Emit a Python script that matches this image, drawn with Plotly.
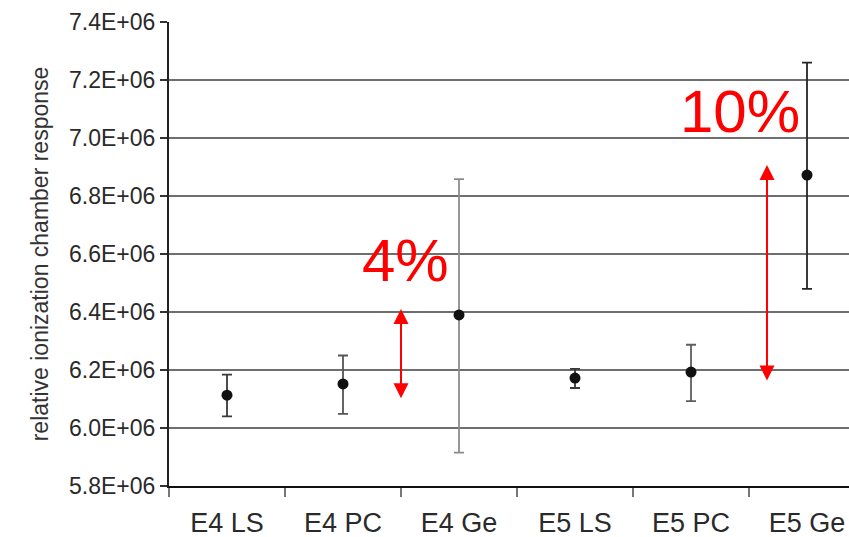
import plotly.graph_objects as go

# Measurement series: relative ionization chamber response per setup
categories = ["E4 LS", "E4 PC", "E4 Ge", "E5 LS", "E5 PC", "E5 Ge"]
response = [6.113e6, 6.152e6, 6.390e6, 6.172e6, 6.193e6, 6.872e6]
err_plus = [0.071e6, 0.098e6, 0.468e6, 0.032e6, 0.094e6, 0.388e6]
err_minus = [0.073e6, 0.103e6, 0.475e6, 0.034e6, 0.100e6, 0.392e6]
bar_colors = ["#3a3a3a", "#555555", "#8c8c8c", "#3a3a3a", "#5e5e5e", "#262626"]

# Y axis ticks
y_ticks = [5.8e6, 6.0e6, 6.2e6, 6.4e6, 6.6e6, 6.8e6, 7.0e6, 7.2e6, 7.4e6]
y_ticktext = [f"{v:.1E}" for v in y_ticks]

# Spread annotations: label, arrow x (category units), arrow low/high, label position
spread_labels = ["4%", "10%"]
spread_x = [1.50, 4.655]
spread_low = [6.097e6, 6.159e6]
spread_high = [6.410e6, 6.907e6]
label_x = [1.543, 4.42]
label_y = [6.579e6, 7.09e6]

fig = go.Figure()

for cat, val, ep, em, col in zip(categories, response, err_plus, err_minus, bar_colors):
    fig.add_trace(go.Scatter(
        x=[cat], y=[val],
        mode="markers",
        marker=dict(color="#111111", size=11),
        error_y=dict(type="data", symmetric=False, array=[ep], arrayminus=[em],
                     color=col, thickness=1.8, width=5),
        showlegend=False,
    ))

for lab, ax_x, lo, hi, lx, ly in zip(spread_labels, spread_x, spread_low, spread_high, label_x, label_y):
    fig.add_annotation(
        x=ax_x, y=hi, ax=ax_x, ay=lo,
        xref="x", yref="y", axref="x", ayref="y",
        text="", showarrow=True,
        arrowhead=2, arrowside="end+start", arrowsize=1.5,
        arrowwidth=2, arrowcolor="#ff0000",
    )
    fig.add_annotation(
        x=lx, y=ly, xref="x", yref="y", text=lab, showarrow=False,
        font=dict(family="Liberation Sans, Arial, sans-serif", size=60, color="#ff0000"),
        xanchor="center", yanchor="middle",
    )

fig.update_layout(
    width=849, height=537,
    margin=dict(l=169, r=0, t=22, b=51),
    plot_bgcolor="white", paper_bgcolor="white",
    font=dict(family="Liberation Sans, Arial, sans-serif", color="#2a2a2a"),
    showlegend=False,
)

fig.update_xaxes(
    type="category",
    categoryorder="array", categoryarray=categories,
    range=[-0.5, 5.362],
    showgrid=False,
    showline=True, linecolor="#111111", linewidth=2,
    ticks="outside", tickson="boundaries", ticklen=9, tickwidth=1.5, tickcolor="#777777",
    tickfont=dict(size=27, color="#2a2a2a"),
    ticklabelstandoff=12,
    zeroline=False,
)

fig.update_yaxes(
    range=[5.8e6, 7.4e6],
    tickmode="array", tickvals=y_ticks, ticktext=y_ticktext,
    showgrid=True, gridcolor="#6e6e6e", gridwidth=2,
    showline=True, linecolor="#222222", linewidth=2,
    ticks="outside", ticklen=7, tickwidth=1.5, tickcolor="#333333",
    tickfont=dict(size=23, color="#2a2a2a"),
    title=dict(text="relative ionization chamber response",
               font=dict(size=23, color="#333333"), standoff=14),
    zeroline=False,
)

fig.write_html("out.html")
